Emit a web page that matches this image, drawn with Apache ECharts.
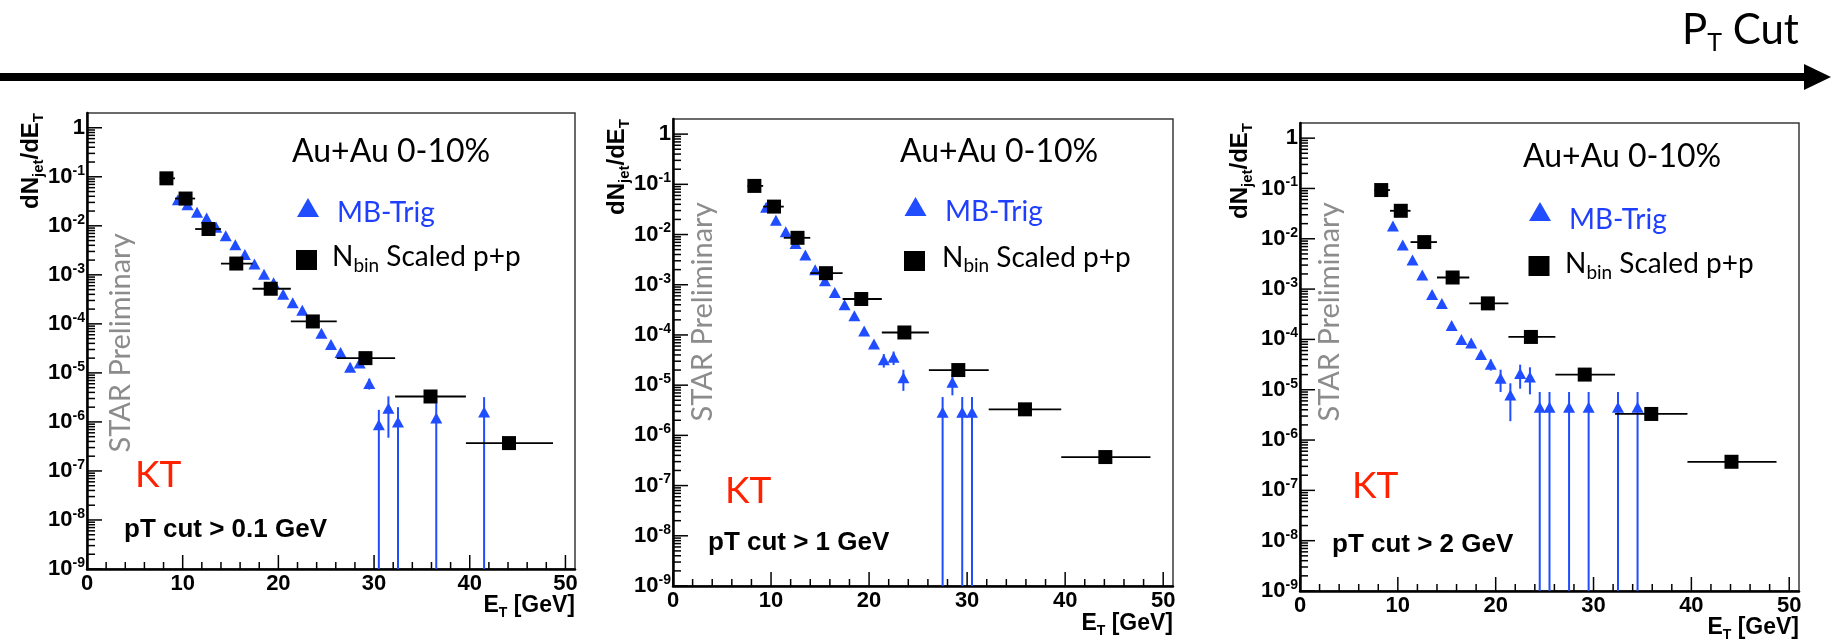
<!DOCTYPE html>
<html><head><meta charset="utf-8">
<script src="https://cdn.jsdelivr.net/npm/echarts@6/dist/echarts.min.js"></script>
<style>html,body{margin:0;padding:0;background:#fff}#c{width:1834px;height:641px}</style>
</head><body><div id="c"></div>
<script>
// ================= DATA =================
// N_bin scaled p+p reference (same in all three panels)
const ppX  = [8.3, 10.3, 12.7, 15.6, 19.2, 23.6, 29.1, 35.9, 44.1];
const ppLo = [7.6, 9.2, 11.3, 14.0, 17.3, 21.3, 26.1, 32.2, 39.6];
const ppHi = [9.2, 11.3, 14.0, 17.3, 21.3, 26.1, 32.2, 39.6, 48.7];
const ppY  = [0.093, 0.036, 0.0086, 0.0017, 5.2e-4, 1.12e-4, 2.0e-5, 3.3e-6, 3.7e-7];

// MB-Trig, pT cut > 0.1 GeV
const mbX1 = [9.5,10.5,11.5,12.5,13.5,14.5,15.5,16.5,17.5,18.5,19.5,20.5,21.5,22.5,23.5,24.5,25.5,26.5,27.5,28.5,29.5,30.5,31.5,32.5,36.5,41.5];
const mbY1 = [0.034,0.027,0.019,0.0144,0.0093,0.0063,0.0041,0.0026,0.00166,0.00103,6.9e-4,4.0e-4,2.7e-4,1.9e-4,1.15e-4,6.4e-5,3.8e-5,2.6e-5,1.3e-5,1.6e-5,6.1e-6,8.8e-7,1.9e-6,1.0e-6,1.2e-6,1.6e-6];
const mbE1 = [0.02,0.02,0.02,0.02,0.03,0.03,0.03,0.04,0.04,0.05,0.05,0.06,0.07,0.08,0.09,0.1,0.13,0.15,0.2,0.2,0.25,1,0.75,1,1,1];

// MB-Trig, pT cut > 1 GeV
const mbX2 = [9.5,10.5,11.5,12.5,13.5,14.5,15.5,16.5,17.5,18.5,19.5,20.5,21.5,22.5,23.5,27.5,28.5,29.5,30.5];
const mbY2 = [0.035,0.0192,0.0114,0.0066,0.0039,0.0020,0.0012,7.0e-4,4.0e-4,2.4e-4,1.2e-4,6.6e-5,3.2e-5,3.6e-5,1.4e-5,2.9e-6,1.14e-5,2.9e-6,2.9e-6];
const mbE2 = [0.02,0.02,0.03,0.03,0.04,0.05,0.06,0.07,0.08,0.1,0.12,0.15,0.3,0.3,0.45,1,0.45,1,1];

// MB-Trig, pT cut > 2 GeV
const mbX3 = [9.5,10.5,11.5,12.5,13.5,14.5,15.5,16.5,17.5,18.5,19.5,20.5,21.5,22.5,23.5,24.5,25.5,27.5,29.5,32.5,34.5];
const mbY3 = [0.0179,0.0075,0.0038,0.0019,7.8e-4,5.2e-4,1.9e-4,1.0e-4,8.5e-5,5.0e-5,3.2e-5,1.7e-5,7.9e-6,2.1e-5,1.8e-5,4.5e-6,4.5e-6,4.5e-6,4.5e-6,4.5e-6,4.5e-6];
const mbE3 = [0.03,0.04,0.05,0.06,0.07,0.08,0.09,0.1,0.1,0.15,0.25,0.47,0.7,0.5,0.55,1,1,1,1,1,1];

// axis ticks / labels
const xTicks = [0, 10, 20, 30, 40, 50];
const xTickLabels = ['0', '10', '20', '30', '40', '50'];
const yDecades = [-9, -8, -7, -6, -5, -4, -3, -2, -1, 0];
const yTickLabels = ['10{sup|-9}','10{sup|-8}','10{sup|-7}','10{sup|-6}','10{sup|-5}','10{sup|-4}','10{sup|-3}','10{sup|-2}','10{sup|-1}','1'];
const cutLabels = ['pT cut > 0.1 GeV', 'pT cut > 1 GeV', 'pT cut > 2 GeV'];

// ================= LAYOUT / STYLE =================
const Y_MIN = 1e-9, Y_MAX = 2, X_MIN = 0, X_MAX = 51;
const BLUE = '#1f4dff';
const ROOTF = 'Liberation Sans, Arial, sans-serif';
const SLIDEF = 'Lato, Open Sans, sans-serif';

const L = [
  {l:87, t:113, r:575, b:569, au:[292,152], tri:[308,208], mb:[337,213], sq:[306.5,260], nb:[332,257], kt:[135,475], cut:[124,530], star:[121,343], yt:[31,113], et:[575,606]},
  {l:673, t:119, r:1173, b:586, au:[900,152], tri:[915.5,207], mb:[945,212], sq:[914.5,261], nb:[942,257.5], kt:[725,491], cut:[708,543], star:[703,312], yt:[617,119], et:[1173,624]},
  {l:1300, t:123, r:1799, b:591, au:[1523,157], tri:[1540,212], mb:[1569,220], sq:[1539,266], nb:[1565,264], kt:[1352,486], cut:[1332,545], star:[1330,312], yt:[1240,123], et:[1799,628]}
];
const mbSets = [[mbX1, mbY1, mbE1], [mbX2, mbY2, mbE2], [mbX3, mbY3, mbE3]];

// tick values (major/minor) for the ROOT-style ticks
const yTickVals = [];
yDecades.forEach(d => {
  yTickVals.push([0, Math.pow(10, d), 1]);
  if (d < 0) for (let m = 2; m <= 9; m++) yTickVals.push([0, m * Math.pow(10, d), 0]);
});
const xTickVals = [];
for (let v = 0; v <= 50; v += 2) xTickVals.push([v, Y_MIN, xTicks.indexOf(v) >= 0 ? 1 : 0]);

function yLabel(v) {
  const lg = Math.log10(v), e = Math.round(lg);
  if (Math.abs(lg - e) > 1e-6) return '';
  const i = yDecades.indexOf(e);
  return i < 0 ? '' : yTickLabels[i];
}
function xLabel(v) {
  const i = xTicks.indexOf(Math.round(v * 1000) / 1000);
  return i < 0 ? '' : xTickLabels[i];
}

const grids = [], xAxes = [], yAxes = [], series = [], graphics = [];

L.forEach((g, i) => {
  grids.push({left: g.l, top: g.t, width: g.r - g.l, height: g.b - g.t, show: true,
    borderColor: '#3a3a3a', borderWidth: 1.5, backgroundColor: 'transparent',
    containLabel: false, outerBoundsMode: 'none'});
  xAxes.push({gridIndex: i, type: 'value', min: X_MIN, max: X_MAX, interval: 10,
    axisLine: {show: true, onZero: false, lineStyle: {color: '#000', width: 2.5}},
    axisTick: {show: false}, splitLine: {show: false}, minorTick: {show: false},
    axisLabel: {formatter: xLabel, color: '#000', fontFamily: ROOTF, fontWeight: 'bold', fontSize: 22, margin: 4,
      showMaxLabel: true, showMinLabel: true}});
  yAxes.push({gridIndex: i, type: 'log', logBase: 10, min: Y_MIN, max: Y_MAX, splitNumber: 10,
    axisLine: {show: true, onZero: false, lineStyle: {color: '#000', width: 2.5}},
    axisTick: {show: false}, splitLine: {show: false}, minorTick: {show: false},
    axisLabel: {formatter: yLabel, color: '#000', fontFamily: ROOTF, fontWeight: 'bold', fontSize: 22, lineHeight: 26, margin: 2,
      rich: {sup: {fontSize: 14, fontFamily: ROOTF, fontWeight: 'bold', color: '#000', verticalAlign: 'top', lineHeight: 15}}}});

  // ticks (y, inward)
  series.push({type: 'custom', xAxisIndex: i, yAxisIndex: i, silent: true, animation: false, z: 5,
    data: yTickVals,
    renderItem: (p, api) => {
      const c = api.coord([X_MIN, api.value(1)]);
      const len = api.value(2) ? 15 : 8;
      return {type: 'line', shape: {x1: c[0], y1: c[1], x2: c[0] + len, y2: c[1]}, style: {stroke: '#000', lineWidth: 1.5}};
    }});
  // ticks (x, inward)
  series.push({type: 'custom', xAxisIndex: i, yAxisIndex: i, silent: true, animation: false, z: 5,
    data: xTickVals,
    renderItem: (p, api) => {
      const c = api.coord([api.value(0), Y_MIN]);
      const len = api.value(2) ? 14 : 7;
      return {type: 'line', shape: {x1: c[0], y1: c[1], x2: c[0], y2: c[1] - len}, style: {stroke: '#000', lineWidth: 1.5}};
    }});

  const [mx, my, me] = mbSets[i];
  // MB-Trig vertical error bars
  series.push({type: 'custom', xAxisIndex: i, yAxisIndex: i, silent: true, animation: false, z: 2,
    data: mx.map((x, k) => [x, my[k], me[k]]),
    renderItem: (p, api) => {
      const x = api.value(0), y = api.value(1), e = api.value(2);
      const hi = y * (1 + e), lo = Math.max(y * (1 - e), Y_MIN);
      const a = api.coord([x, hi]), b = api.coord([x, lo]);
      return {type: 'line', shape: {x1: a[0], y1: a[1], x2: b[0], y2: b[1]}, style: {stroke: BLUE, lineWidth: 2}};
    }});
  series.push({type: 'scatter', name: 'MB-Trig', xAxisIndex: i, yAxisIndex: i, silent: true, animation: false, z: 3,
    symbol: 'triangle', symbolSize: [12, 11], itemStyle: {color: BLUE, opacity: 1},
    data: mx.map((x, k) => [x, my[k]])});
  // p+p horizontal bin bars
  series.push({type: 'custom', xAxisIndex: i, yAxisIndex: i, silent: true, animation: false, z: 4,
    data: ppX.map((x, k) => [x, ppY[k], ppLo[k], ppHi[k]]),
    renderItem: (p, api) => {
      const y = api.value(1);
      const a = api.coord([api.value(2), y]), b = api.coord([api.value(3), y]);
      return {type: 'line', shape: {x1: a[0], y1: a[1], x2: b[0], y2: b[1]}, style: {stroke: '#000', lineWidth: 1.8}};
    }});
  series.push({type: 'scatter', name: 'Nbin Scaled p+p', xAxisIndex: i, yAxisIndex: i, silent: true, animation: false, z: 4,
    symbol: 'rect', symbolSize: 14, itemStyle: {color: '#000', opacity: 1},
    data: ppX.map((x, k) => [x, ppY[k]])});

  // annotations
  graphics.push({type: 'text', x: g.au[0], y: g.au[1], silent: true,
    style: {text: 'Au+Au 0-10%', fill: '#000', fontFamily: SLIDEF, fontSize: 32, align: 'left', verticalAlign: 'middle'}});
  graphics.push({type: 'polygon', silent: true,
    shape: {points: [[g.tri[0] - 11, g.tri[1] + 9], [g.tri[0] + 11, g.tri[1] + 9], [g.tri[0], g.tri[1] - 10]]},
    style: {fill: BLUE}});
  graphics.push({type: 'text', x: g.mb[0], y: g.mb[1], silent: true,
    style: {text: 'MB-Trig', fill: '#1f3fff', fontFamily: SLIDEF, fontSize: 28, align: 'left', verticalAlign: 'middle'}});
  graphics.push({type: 'rect', silent: true,
    shape: {x: g.sq[0] - 10.5, y: g.sq[1] - 10, width: 21, height: 20}, style: {fill: '#000'}});
  graphics.push({type: 'text', x: g.nb[0], y: g.nb[1], silent: true,
    style: {text: 'N{sub|bin} Scaled p+p', fill: '#000', fontFamily: SLIDEF, fontSize: 28, lineHeight: 36,
      align: 'left', verticalAlign: 'middle',
      rich: {sub: {fontFamily: SLIDEF, fontSize: 19, fill: '#000', verticalAlign: 'bottom', lineHeight: 14}}}});
  graphics.push({type: 'text', x: g.kt[0], y: g.kt[1], silent: true,
    style: {text: 'KT', fill: '#ff2200', fontFamily: SLIDEF, fontSize: 37, align: 'left', verticalAlign: 'middle'}});
  graphics.push({type: 'text', x: g.cut[0], y: g.cut[1], silent: true,
    style: {text: cutLabels[i], fill: '#000', fontFamily: ROOTF, fontWeight: 'bold', fontSize: 26, align: 'left', verticalAlign: 'middle'}});
  graphics.push({type: 'text', x: g.star[0], y: g.star[1], rotation: Math.PI / 2, silent: true,
    style: {text: 'STAR Preliminary', fill: '#8c8c8c', fontFamily: SLIDEF, fontSize: 29, align: 'center', verticalAlign: 'middle'}});
  graphics.push({type: 'text', x: g.yt[0], y: g.yt[1], rotation: Math.PI / 2, silent: true,
    style: {text: 'dN{sub|jet}/dE{sub|T}', fill: '#000', fontFamily: ROOTF, fontWeight: 'bold', fontSize: 24, lineHeight: 30,
      align: 'right', verticalAlign: 'middle',
      rich: {sub: {fontFamily: ROOTF, fontWeight: 'bold', fontSize: 15, fill: '#000', verticalAlign: 'bottom', lineHeight: 13}}}});
  graphics.push({type: 'text', x: g.et[0], y: g.et[1], silent: true,
    style: {text: 'E{sub|T} [GeV]', fill: '#000', fontFamily: ROOTF, fontWeight: 'bold', fontSize: 23, lineHeight: 28,
      align: 'right', verticalAlign: 'middle',
      rich: {sub: {fontFamily: ROOTF, fontWeight: 'bold', fontSize: 14, fill: '#000', verticalAlign: 'bottom', lineHeight: 12}}}});
});

// top arrow "P_T Cut"
graphics.push({type: 'line', silent: true, shape: {x1: 0, y1: 77, x2: 1810, y2: 77}, style: {stroke: '#000', lineWidth: 8}});
graphics.push({type: 'polygon', silent: true, shape: {points: [[1804, 64], [1831, 77], [1804, 90]]}, style: {fill: '#000'}});
graphics.push({type: 'text', x: 1682, y: 30, silent: true,
  style: {text: 'P{sub|T} Cut', fill: '#000', fontFamily: SLIDEF, fontSize: 42, lineHeight: 50, align: 'left', verticalAlign: 'middle',
    rich: {sub: {fontFamily: SLIDEF, fontSize: 25, fill: '#000', verticalAlign: 'bottom', lineHeight: 18}}}});

const chart = echarts.init(document.getElementById('c'), null, {renderer: 'canvas', width: 1834, height: 641});
chart.setOption({
  animation: false,
  backgroundColor: '#fff',
  grid: grids, xAxis: xAxes, yAxis: yAxes, series: series, graphic: graphics
});
</script></body></html>
